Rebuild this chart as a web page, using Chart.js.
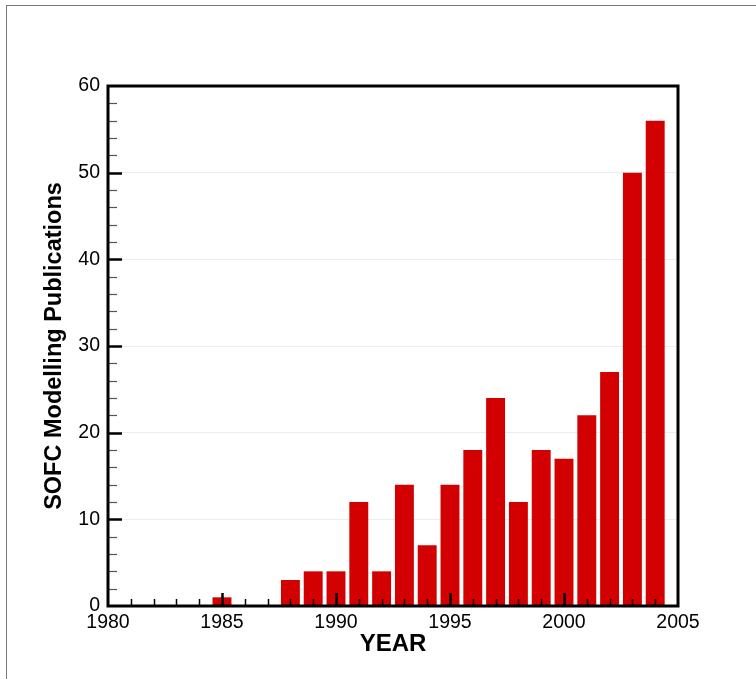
<!DOCTYPE html>
<html>
<head>
<meta charset="utf-8">
<script src="https://cdn.jsdelivr.net/npm/chart.js@4.4.1/dist/chart.umd.min.js"></script>
<style>
  html, body { margin: 0; padding: 0; background: #fff; }
  #wrap { position: relative; width: 756px; height: 679px; }
  #frame { position: absolute; left: 6px; top: 5px; right: -10px; bottom: -10px;
           border-left: 1px solid #777; border-top: 1px solid #777; }
  canvas { position: absolute; left: 0; top: 0; }
</style>
</head>
<body>
<div id="wrap">
  <div id="frame"></div>
  <canvas id="chart" width="756" height="679"></canvas>
</div>
<script>
// données
const years = [1985, 1988, 1989, 1990, 1991, 1992, 1993, 1994, 1995, 1996, 1997, 1998, 1999, 2000, 2001, 2002, 2003, 2004];
const publications = [1, 3, 4, 4, 12, 4, 14, 7, 14, 18, 24, 12, 18, 17, 22, 27, 50, 56];
const xTitle = 'YEAR';
const yTitle = 'SOFC Modelling Publications';

// cadre noir + petits ticks vers l'intérieur
const frameTicks = {
    id: 'frameTicks',
    afterDatasetsDraw(chart) {
        const ctx = chart.ctx;
        const area = chart.chartArea;
        const x = chart.scales.x;
        const y = chart.scales.y;
        ctx.save();
        ctx.strokeStyle = '#000';

        // ticks axe x (chaque année, majeur tous les 5 ans)
        for (let yr = 1981; yr < 2005; yr++) {
            const px = Math.round(x.getPixelForValue(yr)) + 0.5;
            const major = yr % 5 === 0;
            ctx.lineWidth = major ? 2.5 : 1.5;
            ctx.beginPath();
            ctx.moveTo(px, area.bottom);
            ctx.lineTo(px, area.bottom - (major ? 13 : 7));
            ctx.stroke();
        }
        // ticks axe y (tous les 2, majeur tous les 10)
        for (let v = 2; v < 60; v += 2) {
            const py = Math.round(y.getPixelForValue(v)) + 0.5;
            const major = v % 10 === 0;
            ctx.strokeStyle = major ? '#000' : '#555';
            ctx.lineWidth = major ? 2.5 : 1.2;
            ctx.beginPath();
            ctx.moveTo(area.left, py);
            ctx.lineTo(area.left + (major ? 14 : 9), py);
            ctx.stroke();
        }

        ctx.strokeStyle = '#000';
        ctx.lineWidth = 3;
        ctx.strokeRect(area.left, area.top, area.right - area.left, area.bottom - area.top);
        ctx.restore();
    }
};

new Chart(document.getElementById('chart').getContext('2d'), {
    type: 'bar',
    data: {
        datasets: [{
            data: years.map((yr, i) => ({ x: yr, y: publications[i] })),
            backgroundColor: '#d20000',
            borderWidth: 0,
            barPercentage: 0.83,
            categoryPercentage: 1.0
        }]
    },
    options: {
        responsive: false,
        animation: false,
        layout: { padding: { left: 30, top: 86, right: 78, bottom: 0 } },
        plugins: {
            legend: { display: false },
            tooltip: { enabled: false }
        },
        scales: {
            x: {
                type: 'linear',
                min: 1980,
                max: 2005,
                offset: false,
                afterFit: (s) => { s.height = 73; },
                ticks: {
                    stepSize: 5,
                    color: '#000',
                    padding: 5,
                    maxRotation: 0,
                    font: { family: 'Liberation Sans, Arial, sans-serif', size: 19.5 },
                    callback: (v) => String(v)
                },
                grid: { display: false, drawTicks: false, offset: false },
                border: { display: false },
                title: {
                    display: true,
                    text: xTitle,
                    color: '#000',
                    padding: { top: 0, bottom: 20 },
                    font: { family: 'Liberation Sans, Arial, sans-serif', size: 24, weight: 'bold' }
                }
            },
            y: {
                min: 0,
                max: 60,
                afterFit: (s) => { s.width = 78; },
                ticks: {
                    stepSize: 10,
                    color: '#000',
                    padding: 8,
                    font: { family: 'Liberation Sans, Arial, sans-serif', size: 19.5 }
                },
                grid: {
                    drawTicks: false,
                    color: '#ececec',
                    lineWidth: 1
                },
                border: { display: false },
                title: {
                    display: true,
                    text: yTitle,
                    color: '#000',
                    padding: { top: 10, bottom: 0 },
                    font: { family: 'Liberation Sans, Arial, sans-serif', size: 23.5, weight: 'bold' }
                }
            }
        }
    },
    plugins: [frameTicks]
});
</script>
</body>
</html>
